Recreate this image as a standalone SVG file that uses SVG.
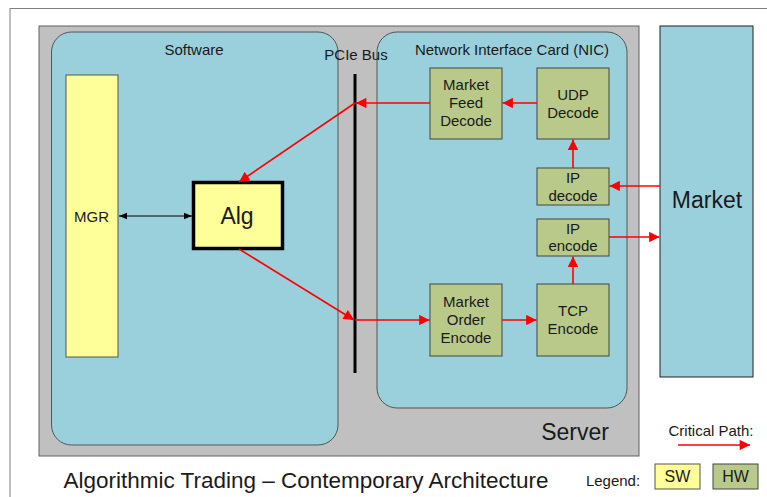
<svg xmlns="http://www.w3.org/2000/svg" width="767" height="497" viewBox="0 0 767 497">
  <defs>
    <marker id="redArrow" viewBox="0 0 10 10" refX="10" refY="5" markerWidth="7" markerHeight="6.5" orient="auto" markerUnits="strokeWidth">
      <path d="M0,0 L10,5 L0,10 z" fill="#ff0000"/>
    </marker>
    <marker id="blackArrow" viewBox="0 0 10 10" refX="10" refY="5" markerWidth="8" markerHeight="8" orient="auto-start-reverse" markerUnits="strokeWidth">
      <path d="M0,1 L10,5 L0,9 z" fill="#000"/>
    </marker>
  </defs>
  <style>
    text { font-family: "Liberation Sans", Arial, sans-serif; fill: #1a1a1a; text-anchor: middle; dominant-baseline: central; }
    .panel { fill: #99d0dc; stroke: #555; stroke-width: 1; }
    .hw { fill: #b8c98a; stroke: #444; stroke-width: 1; }
    .sw { fill: #ffff99; stroke: #555; stroke-width: 1; }
    .crit { stroke: #ff0000; stroke-width: 1.6; fill: none; }
    .lbl { font-size: 15px; }
    .big { font-size: 23px; }
  </style>

  <rect width="767" height="497" fill="#ffffff"/>
  <!-- outer frame -->
  <rect x="10" y="8.5" width="780" height="520" fill="none" stroke="#808080" stroke-width="1"/>

  <!-- server enclosure -->
  <g id="server">
    <rect x="39" y="26" width="600" height="430" fill="#c0c0c0" stroke="#606060" stroke-width="1"/>
    <text x="575" y="432" class="big">Server</text>
  </g>

  <g id="software">
    <rect x="51.5" y="32" width="286.5" height="413" rx="20" class="panel"/>
    <text x="194" y="49" class="lbl">Software</text>
  </g>

  <g id="nic">
    <rect x="377" y="32" width="250" height="376" rx="20" class="panel"/>
    <text x="512" y="49" class="lbl">Network Interface Card (NIC)</text>
  </g>

  <g id="market">
    <rect x="660" y="26" width="93" height="351" fill="#99d0dc" stroke="#222" stroke-width="1"/>
    <text x="707" y="200" class="big">Market</text>
  </g>

  <g id="pcie-bus">
    <line x1="355" y1="74" x2="355" y2="373" stroke="#000" stroke-width="3"/>
    <text x="356" y="54" class="lbl">PCIe Bus</text>
  </g>

  <g id="mgr">
    <rect x="66" y="75" width="52" height="282" class="sw"/>
    <text x="91.5" y="216" font-size="15">MGR</text>
  </g>

  <g id="alg">
    <rect x="193.5" y="182.5" width="89" height="66" fill="#ffff99" stroke="#000" stroke-width="3.5"/>
    <text x="237" y="216" font-size="23">Alg</text>
  </g>

  <g id="market-feed-decode">
    <rect x="430" y="68" width="72" height="71" class="hw"/>
    <text x="466" y="84" class="lbl">Market</text>
    <text x="466" y="102" class="lbl">Feed</text>
    <text x="466" y="120" class="lbl">Decode</text>
  </g>

  <g id="udp-decode">
    <rect x="537" y="68" width="72" height="71" class="hw"/>
    <text x="573" y="94" class="lbl">UDP</text>
    <text x="573" y="112" class="lbl">Decode</text>
  </g>

  <g id="ip-decode">
    <rect x="537" y="168" width="72" height="37" class="hw"/>
    <text x="573" y="177" class="lbl">IP</text>
    <text x="573" y="195" class="lbl">decode</text>
  </g>

  <g id="ip-encode">
    <rect x="537" y="219" width="72" height="37" class="hw"/>
    <text x="573" y="228" class="lbl">IP</text>
    <text x="573" y="245" class="lbl">encode</text>
  </g>

  <g id="market-order-encode">
    <rect x="430" y="284" width="72" height="72" class="hw"/>
    <text x="466" y="301" class="lbl">Market</text>
    <text x="466" y="319" class="lbl">Order</text>
    <text x="466" y="337" class="lbl">Encode</text>
  </g>

  <g id="tcp-encode">
    <rect x="537" y="284" width="72" height="72" class="hw"/>
    <text x="573" y="310" class="lbl">TCP</text>
    <text x="573" y="328" class="lbl">Encode</text>
  </g>

  <g id="connectors">
    <line x1="119" y1="216" x2="192" y2="216" stroke="#000" stroke-width="1" marker-start="url(#blackArrow)" marker-end="url(#blackArrow)"/>
    <line x1="537" y1="103" x2="502.5" y2="103" class="crit" marker-end="url(#redArrow)"/>
    <line x1="430" y1="103" x2="356" y2="103" class="crit" marker-end="url(#redArrow)"/>
    <line x1="355" y1="103" x2="239" y2="182" class="crit" marker-end="url(#redArrow)"/>
    <line x1="239" y1="249" x2="354" y2="320" class="crit" marker-end="url(#redArrow)"/>
    <line x1="355" y1="320" x2="429.5" y2="320" class="crit" marker-end="url(#redArrow)"/>
    <line x1="502" y1="320" x2="536.5" y2="320" class="crit" marker-end="url(#redArrow)"/>
    <line x1="573" y1="284" x2="573" y2="256.5" class="crit" marker-end="url(#redArrow)"/>
    <line x1="573" y1="168" x2="573" y2="139.5" class="crit" marker-end="url(#redArrow)"/>
    <line x1="660" y1="186" x2="609.5" y2="186" class="crit" marker-end="url(#redArrow)"/>
    <line x1="609" y1="237" x2="659.5" y2="237" class="crit" marker-end="url(#redArrow)"/>
  </g>

  <g id="title">
    <text x="306" y="480" font-size="22.5">Algorithmic Trading – Contemporary Architecture</text>
  </g>

  <g id="legend">
    <text x="711" y="430" font-size="15">Critical Path:</text>
    <line x1="678" y1="445" x2="750" y2="445" class="crit" marker-end="url(#redArrow)"/>
    <text x="613" y="480" font-size="15">Legend:</text>
    <rect x="655" y="464" width="45" height="25" class="sw"/>
    <text x="677.5" y="476.5" font-size="16">SW</text>
    <rect x="713" y="464" width="45" height="25" class="hw"/>
    <text x="735.5" y="476.5" font-size="16">HW</text>
  </g>
</svg>
